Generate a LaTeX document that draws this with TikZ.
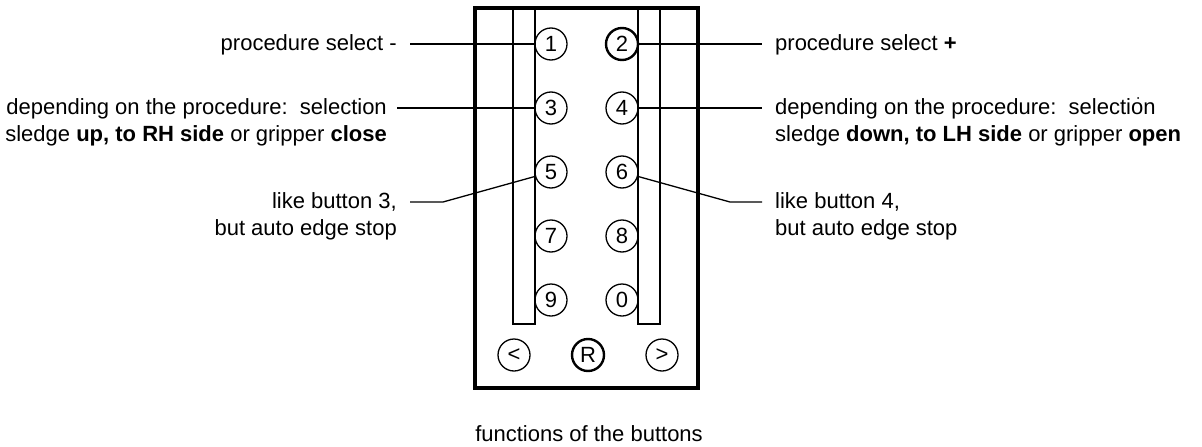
\documentclass[tikz,border=0pt]{standalone}
\usepackage{fontspec}
\setmainfont{Liberation Sans}
\begin{document}
\begin{tikzpicture}[x=1pt,y=-1pt,
  lbl/.style={inner sep=0pt, font=\fontsize{22}{27}\selectfont},
  btn/.style={circle, draw, line width=1.3pt, minimum size=32pt, inner sep=0pt, font=\fontsize{22}{22}\selectfont},
  btnb/.style={btn, line width=2.4pt},
  lead/.style={line width=1.3pt},
  strip/.style={draw, line width=1.2pt},
  frame/.style={draw, line width=3.2pt}]
\useasboundingbox (0,0) rectangle (1202,447);
% housing
\draw[frame] (475,8) rectangle (698,388);
\draw[strip] (513,8) rectangle (535,324);
\draw[strip] (638,8) rectangle (660,324);
% buttons
\node[btn]  (b1) at (551,44)  {1};
\node[btnb] (b2) at (622,44)  {2};
\node[btn]  (b3) at (551,108) {3};
\node[btn]  (b4) at (622,108) {4};
\node[btn]  (b5) at (551,172) {5};
\node[btn]  (b6) at (622,172) {6};
\node[btn]  (b7) at (551,236) {7};
\node[btn]  (b8) at (622,236) {8};
\node[btn]  (b9) at (551,300) {9};
\node[btn]  (b0) at (622,300) {0};
\node[btn]  (bl) at (514,355) {<};
\node[btnb] (bR) at (588,355) {R};
\node[btn]  (br) at (662,355) {>};
% left labels
\node[lbl, anchor=base east] (t1) at (397,50) {procedure select -};
\node[lbl, anchor=base east] (t3a) at (387,114) {depending on the procedure:\ \ selection};
\node[lbl, anchor=base east] (t3b) at (387,141) {sledge \textbf{up, to RH side} or gripper \textbf{close}};
\node[lbl, anchor=base east] (t5a) at (397,208) {like button 3,};
\node[lbl, anchor=base east] (t5b) at (397,235) {but auto edge stop};
% right labels
\node[lbl, anchor=base west] (t2) at (775,50) {procedure select \textbf{+}};
\node[lbl, anchor=base west] (t4a) at (775,114) {depending on the procedure:\ \ selection};
\node[lbl, anchor=base west] (t4b) at (775,141) {sledge \textbf{down, to LH side} or gripper \textbf{open}};
\node[lbl, anchor=base west] (t6a) at (775,208) {like button 4,};
\node[lbl, anchor=base west] (t6b) at (775,235) {but auto edge stop};
% caption
\node[lbl, anchor=base] (cap) at (589,441) {functions of the buttons};
% leader ends
\coordinate (l1) at (410,44);
\coordinate (l3) at (397,108);
\coordinate (l5) at (410,202);
\coordinate (k5) at (443,202);
\coordinate (l2) at (762,44);
\coordinate (l4) at (762,108);
\coordinate (l6) at (762,202);
\coordinate (k6) at (730,202);
\draw[lead] (l1) -- (b1);
\draw[lead] (l3) -- (b3);
\draw[lead] (l5) -- (k5) -- (b5);
\draw[lead] (b2) -- (l2);
\draw[lead] (b4) -- (l4);
\draw[lead] (b6) -- (k6) -- (l6);
% speck
\fill (1138,98) circle (1pt);
\end{tikzpicture}
\end{document}
